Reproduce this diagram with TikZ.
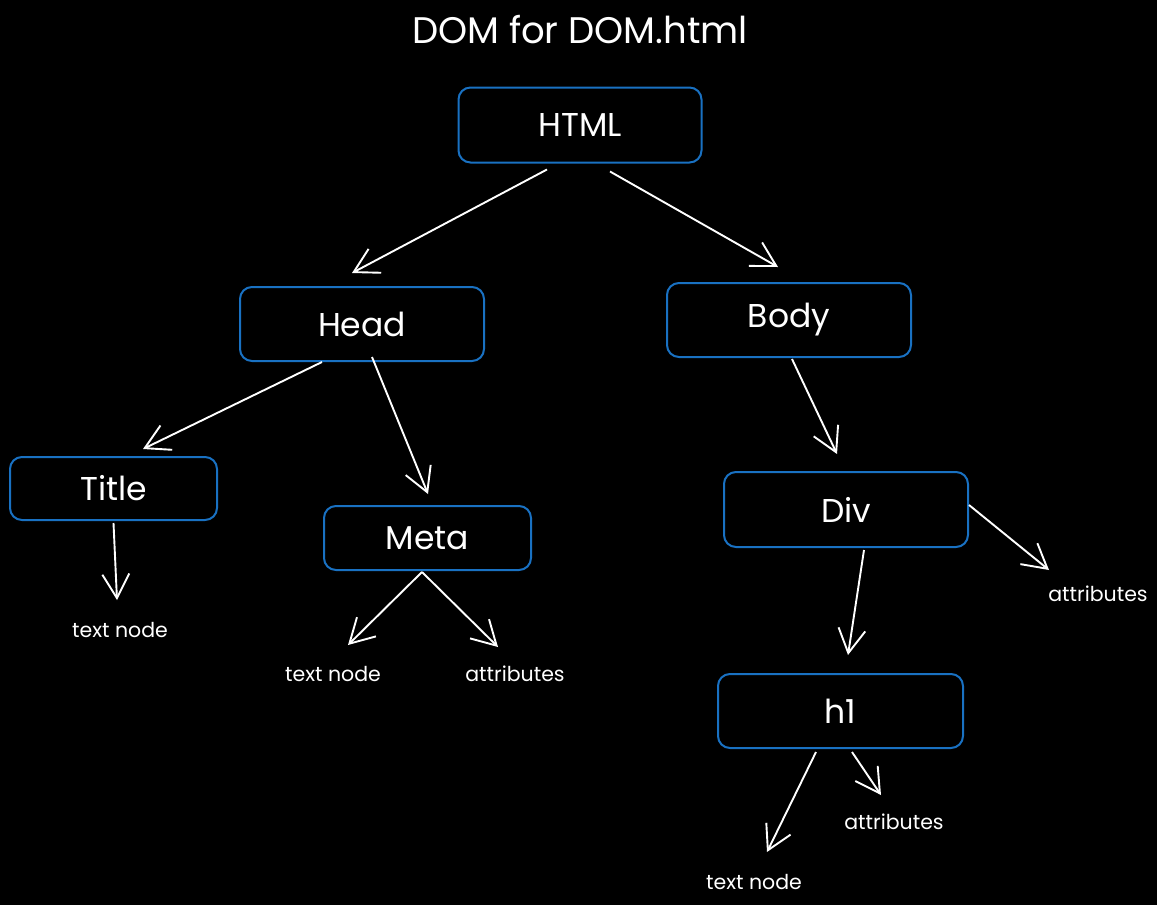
\documentclass[tikz,border=0pt]{standalone}
\usepackage{fontspec}
\setmainfont{Poppins}
\usetikzlibrary{arrows.meta}
\definecolor{exblue}{HTML}{1971C2}
\begin{document}
\begin{tikzpicture}[x=1pt,y=-1pt,
  box/.style={draw=exblue,line width=2pt,rounded corners=12pt,fill=black,text=white,inner sep=0pt,font=\fontsize{33}{35}\selectfont},
  lbl/.style={text=white,inner sep=0pt,font=\fontsize{20.5}{22}\selectfont},
  conn/.style={draw=white,line width=1.9pt,-{Straight Barb[length=24pt,width=27pt,line width=1.9pt]}}]
\fill[black] (0,0) rectangle (1157,905);
\useasboundingbox (0,0) rectangle (1157,905);
\node[text=white,font=\fontsize{37}{40}\selectfont] (title) at (580,30) {DOM for DOM.html};
\node[box,minimum width=243pt,minimum height=75pt] (html) at (580,125) {HTML};
\node[box,minimum width=244pt,minimum height=74pt] (head) at (362,324) {Head};
\node[box,minimum width=244pt,minimum height=74pt] (body) at (789,320) {Body};
\node[box,minimum width=207pt,minimum height=63pt] (ttl) at (113.5,488.5) {Title};
\node[box,minimum width=207pt,minimum height=64pt] (meta) at (427.5,538) {Meta};
\node[box,minimum width=244pt,minimum height=75pt] (div) at (846,509.5) {Div};
\node[box,minimum width=245pt,minimum height=74pt] (h1) at (840.5,711) {h1};
\node[lbl] (tn1) at (120,630) {text node};
\node[lbl] (tn2) at (333,674) {text node};
\node[lbl] (at1) at (515,674) {attributes};
\node[lbl] (at2) at (1098,594) {attributes};
\node[lbl] (at3) at (894,822) {attributes};
\node[lbl] (tn3) at (754,882) {text node};
\draw[conn] ([xshift=-33pt,yshift=-6pt]html.south) -- ([xshift=-10pt,yshift=13pt]head.north);
\draw[conn] ([xshift=30pt,yshift=-8pt]html.south) -- ([xshift=-11pt,yshift=15pt]body.north);
\draw[conn] ([xshift=-40pt]head.south) -- ([xshift=29.5pt,yshift=7pt]ttl.north);
\draw[conn] ([xshift=10pt,yshift=5pt]head.south) -- ([xshift=0.5pt,yshift=11pt]meta.north);
\draw[conn] ([xshift=3pt,yshift=-1pt]body.south) -- ([xshift=-9pt,yshift=17pt]div.north);
\draw[conn] ([yshift=-2pt]ttl.south) -- ([xshift=-3pt,yshift=30pt]tn1.center);
\draw[conn] ([xshift=-5.5pt,yshift=-1pt]meta.south) -- ([xshift=15pt,yshift=29pt]tn2.center);
\draw[conn] ([xshift=-5.5pt,yshift=-1pt]meta.south) -- ([xshift=-17pt,yshift=27pt]at1.center);
\draw[conn] ([yshift=4.5pt]div.east) -- ([xshift=-49pt,yshift=24pt]at2.center);
\draw[conn] ([xshift=18pt,yshift=-2pt]div.south) -- ([xshift=7.5pt,yshift=18pt]h1.north);
\draw[conn] ([xshift=-24.5pt,yshift=-3pt]h1.south) -- ([xshift=13pt,yshift=30pt]tn3.center);
\draw[conn] ([xshift=11.5pt,yshift=-3pt]h1.south) -- ([xshift=-13pt,yshift=27pt]at3.center);
\end{tikzpicture}
\end{document}
